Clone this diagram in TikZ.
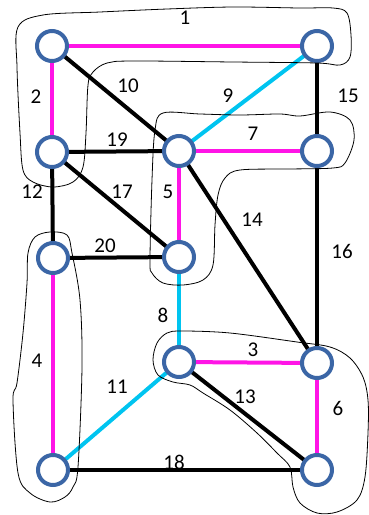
\documentclass[tikz,border=0pt]{standalone}
\usepackage{fontspec}
\setmainfont{Carlito}
\usetikzlibrary{backgrounds}
\definecolor{ring}{RGB}{59,102,166}
\definecolor{mag}{RGB}{255,20,230}
\definecolor{cyanline}{RGB}{0,196,240}
\tikzset{
  vtx/.style={circle, draw=ring, line width=4pt, fill=white, minimum size=30pt, inner sep=0pt},
  em/.style={line width=4pt, draw=mag},
  ec/.style={line width=4pt, draw=cyanline},
  eb/.style={line width=4pt, draw=black},
  lbl/.style={font=\fontsize{21}{25}\selectfont, inner sep=0pt},
  hull/.style={draw=black, line width=0.8pt},
}
\begin{document}
\begin{tikzpicture}[x=1pt, y=-1pt]
\useasboundingbox (0,0) rectangle (369,515);

% vertices
\node[vtx] (a) at (52,46) {};
\node[vtx] (b) at (317,46) {};
\node[vtx] (c) at (52,152) {};
\node[vtx] (d) at (179,151) {};
\node[vtx] (e) at (317,151) {};
\node[vtx] (f) at (53,258) {};
\node[vtx] (g) at (179,257) {};
\node[vtx] (h) at (179,362) {};
\node[vtx] (i) at (317,363) {};
\node[vtx] (j) at (53,470) {};
\node[vtx] (k) at (317,470) {};

% edges, under the vertices
\begin{scope}[on background layer]
  \draw[em] (a.center) -- (b.center);
  \draw[em] (a.center) -- (c.center);
  \draw[eb] (a.center) -- (d.center);
  \draw[ec] (b.center) -- (d.center);
  \draw[eb] (b.center) -- (e.center);
  \draw[eb] (c.center) -- (d.center);
  \draw[em] (d.center) -- (e.center);
  \draw[eb] (c.center) -- (f.center);
  \draw[eb] (c.center) -- (g.center);
  \draw[em] (d.center) -- (g.center);
  \draw[eb] (d.center) -- (i.center);
  \draw[eb] (e.center) -- (i.center);
  \draw[eb] (f.center) -- (g.center);
  \draw[ec] (g.center) -- (h.center);
  \draw[em] (f.center) -- (j.center);
  \draw[em] (h.center) -- (i.center);
  \draw[ec] (h.center) -- (j.center);
  \draw[eb] (h.center) -- (k.center);
  \draw[em] (i.center) -- (k.center);
  \draw[eb] (j.center) -- (k.center);
\end{scope}

% edge weights
\node[lbl] (l1)  at (185,18)  {1};
\node[lbl] (l2)  at (36,97)   {2};
\node[lbl] (l10) at (128,86)  {10};
\node[lbl] (l9)  at (228,96)  {9};
\node[lbl] (l15) at (348,96)  {15};
\node[lbl] (l19) at (117,140) {19};
\node[lbl] (l7)  at (253,134) {7};
\node[lbl] (l12) at (32,192)  {12};
\node[lbl] (l17) at (122,192) {17};
\node[lbl] (l5)  at (168,192) {5};
\node[lbl] (l14) at (252,220) {14};
\node[lbl] (l16) at (342,251) {16};
\node[lbl] (l20) at (105,246) {20};
\node[lbl] (l8)  at (163,315) {8};
\node[lbl] (l4)  at (37,361)  {4};
\node[lbl] (l3)  at (253,350) {3};
\node[lbl] (l11) at (117,387) {11};
\node[lbl] (l13) at (245,397) {13};
\node[lbl] (l6)  at (338,408) {6};
\node[lbl] (l18) at (174,462) {18};

% hand-drawn cluster outlines
\draw[hull] plot[smooth cycle, tension=0.55] coordinates {
  (18,27) (43,15) (100,12) (167,9) (233,7) (300,8) (333,8) (347,13)
  (351,35) (350,57) (340,65) (317,63) (233,62) (133,61) (107,63) (93,72)
  (88,85) (86,133) (83,167) (73,182) (53,187) (33,182) (23,170) (20,133)
  (17,67)};
\draw[hull] plot[smooth cycle, tension=0.55] coordinates {
  (163,113) (200,114) (240,115) (280,114) (300,116) (330,112) (350,120)
  (354,140) (345,163) (333,168) (290,169) (240,170) (225,178) (218,195)
  (215,225) (213,265) (203,280) (183,285) (163,283) (152,273) (150,260)
  (152,180) (155,130)};
\draw[hull] plot[smooth cycle, tension=0.55] coordinates {
  (50,232) (67,235) (72,253) (80,300) (82,367) (78,467) (73,487) (65,497)
  (50,502) (30,493) (18,473) (13,400) (17,383) (23,333) (27,283) (28,253)
  (35,237)};
\draw[hull] plot[smooth cycle, tension=0.55] coordinates {
  (182,331) (230,333) (297,342) (330,347) (350,358) (363,377) (368,400)
  (368,433) (365,477) (357,500) (337,512) (317,513) (300,503) (293,487)
  (290,467) (277,453) (257,433) (230,410) (203,393) (190,385) (173,382)
  (158,375) (153,360) (157,343) (167,333)};
\end{tikzpicture}
\end{document}
